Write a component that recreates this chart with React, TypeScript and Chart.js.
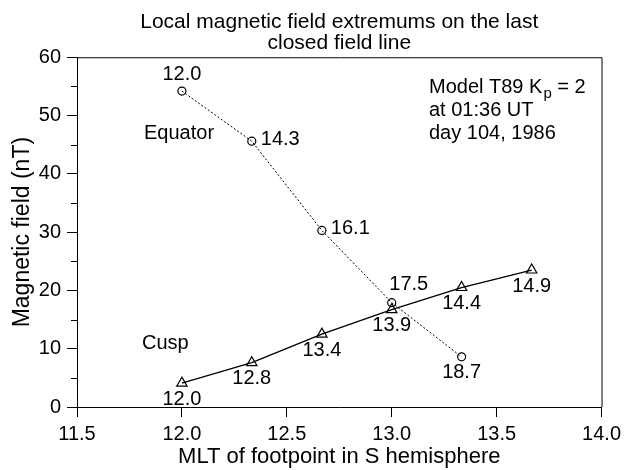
import React, { useEffect, useRef } from "react";
import { Chart, registerables } from "chart.js";

Chart.register(...registerables);

// ---- data ----
const equatorX = [12.0, 12.333, 12.667, 13.0, 13.333];
const equatorY = [54.2, 45.6, 30.3, 17.9, 8.6];
const equatorLabels = ["12.0", "14.3", "16.1", "17.5", "18.7"];
const equatorLabelPlacement = ["above", "right", "right", "aboveRight", "below"];

const cuspX = [12.0, 12.333, 12.667, 13.0, 13.333, 13.667];
const cuspY = [4.1, 7.6, 12.5, 16.7, 20.5, 23.5];
const cuspLabels = ["12.0", "12.8", "13.4", "13.9", "14.4", "14.9"];
const cuspLabelPlacement = ["below", "below", "below", "below", "below", "below"];

const titleLines = ["Local magnetic field extremums on the last", "closed field line"];
const xTitle = "MLT of footpoint in S hemisphere";
const yTitle = "Magnetic field (nT)";
const xMin = 11.5, xMax = 14.0, xStep = 0.5;
const yMin = 0, yMax = 60, yStep = 10, yMinorStep = 5;

const FONT = "'Liberation Sans', Arial, Helvetica, sans-serif";
const FS = 20;

const overlayPlugin = {
  id: "overlay",
  afterDatasetsDraw(chart: any) {
    const { ctx, chartArea, scales } = chart;
    const xs = scales.x, ys = scales.y;
    ctx.save();
    // box top/right
    ctx.strokeStyle = "#000";
    ctx.lineWidth = 1;
    ctx.beginPath();
    ctx.moveTo(chartArea.left, chartArea.top + 0.5);
    ctx.lineTo(chartArea.right + 0.5, chartArea.top + 0.5);
    ctx.lineTo(chartArea.right + 0.5, chartArea.bottom);
    ctx.stroke();
    // minor y ticks
    ctx.beginPath();
    for (let v = yMin + yMinorStep; v < yMax; v += yStep) {
      const py = Math.round(ys.getPixelForValue(v)) + 0.5;
      ctx.moveTo(chartArea.left - 6, py);
      ctx.lineTo(chartArea.left, py);
    }
    ctx.stroke();

    // point labels
    ctx.fillStyle = "#000";
    ctx.font = `${FS}px ${FONT}`;
    ctx.textBaseline = "middle";
    const drawLabels = (xv: number[], yv: number[], labels: string[], place: string[]) => {
      labels.forEach((t, i) => {
        const px = xs.getPixelForValue(xv[i]);
        const py = ys.getPixelForValue(yv[i]);
        const p = place[i];
        let dx = 0, dy = 0;
        ctx.textAlign = "center";
        if (p === "above") { dy = -17; }
        else if (p === "below") { dy = 16; }
        else if (p === "right") { dx = 9; dy = -2; ctx.textAlign = "left"; }
        else if (p === "aboveRight") { dx = 17; dy = -18; }
        ctx.fillText(t, px + dx, py + dy);
      });
    };
    drawLabels(equatorX, equatorY, equatorLabels, equatorLabelPlacement);
    drawLabels(cuspX, cuspY, cuspLabels, cuspLabelPlacement);

    // series names
    ctx.textAlign = "left";
    ctx.textBaseline = "alphabetic";
    ctx.fillText("Equator", 144, 139);
    ctx.fillText("Cusp", 142, 349);

    // model annotation
    const ax = 429;
    let x = ax;
    const s1 = "Model T89 K";
    ctx.fillText(s1, x, 93);
    x += ctx.measureText(s1).width;
    ctx.font = `${Math.round(FS * 0.75)}px ${FONT}`;
    ctx.fillText("p", x + 1, 98);
    x += ctx.measureText("p").width + 1;
    ctx.font = `${FS}px ${FONT}`;
    ctx.fillText(" = 2", x, 93);
    ctx.fillText("at 01:36 UT", ax, 116);
    ctx.fillText("day 104, 1986", ax, 139);
    ctx.restore();
  },
};

export default function App() {
  const ref = useRef<HTMLCanvasElement | null>(null);
  useEffect(() => {
    if (!ref.current) return;
    const chart = new Chart(ref.current, {
      type: "scatter",
      data: {
        datasets: [
          {
            label: "Equator",
            data: equatorX.map((x, i) => ({ x, y: equatorY[i] })),
            showLine: true,
            borderColor: "#000",
            borderWidth: 1,
            borderDash: [2, 2],
            pointStyle: "circle",
            pointRadius: 4,
            pointBorderWidth: 1.2,
            pointBorderColor: "#000",
            pointBackgroundColor: "rgba(0,0,0,0)",
          },
          {
            label: "Cusp",
            data: cuspX.map((x, i) => ({ x, y: cuspY[i] })),
            showLine: true,
            borderColor: "#000",
            borderWidth: 1.3,
            pointStyle: "triangle",
            pointRadius: 6,
            pointBorderWidth: 1.2,
            pointBorderColor: "#000",
            pointBackgroundColor: "rgba(0,0,0,0)",
          },
        ],
      },
      options: {
        animation: false,
        responsive: false,
        maintainAspectRatio: false,
        layout: { padding: { left: 0, right: 21, top: 0, bottom: 0 } },
        plugins: {
          legend: { display: false },
          tooltip: { enabled: false },
          title: {
            display: true,
            fullSize: false,
            text: titleLines,
            color: "#000",
            font: { family: FONT, size: 21, weight: "normal", lineHeight: 1.03 },
            padding: { top: 11, bottom: 3 },
          },
        },
        scales: {
          x: {
            type: "linear",
            min: xMin,
            max: xMax,
            afterFit: (s: any) => { s.height = 63; },
            ticks: {
              stepSize: xStep,
              color: "#000",
              font: { family: FONT, size: FS },
              padding: 5,
              maxRotation: 0,
              callback: (v: any) => Number(v).toFixed(1),
            },
            grid: { drawOnChartArea: false, drawTicks: true, tickLength: 10, color: "#000" },
            border: { display: true, color: "#000", width: 1 },
            title: {
              display: true,
              text: xTitle,
              color: "#000",
              font: { family: FONT, size: 22 },
              padding: { top: 0, bottom: 0 },
            },
          },
          y: {
            type: "linear",
            min: yMin,
            max: yMax,
            afterFit: (s: any) => { s.width = 77; },
            ticks: {
              stepSize: yStep,
              color: "#000",
              font: { family: FONT, size: FS },
              padding: 6,
            },
            grid: { drawOnChartArea: false, drawTicks: true, tickLength: 10, color: "#000" },
            border: { display: true, color: "#000", width: 1 },
            title: {
              display: true,
              text: yTitle,
              color: "#000",
              font: { family: FONT, size: 23 },
              padding: { top: 9, bottom: 9 },
            },
          },
        },
      },
      plugins: [overlayPlugin],
    });
    return () => chart.destroy();
  }, []);
  return (
    <div style={{ position: "absolute", left: 0, top: 0, width: 626, height: 470, background: "#fff" }}>
      <canvas ref={ref} width={626} height={470} style={{ width: 626, height: 470 }} />
    </div>
  );
}
